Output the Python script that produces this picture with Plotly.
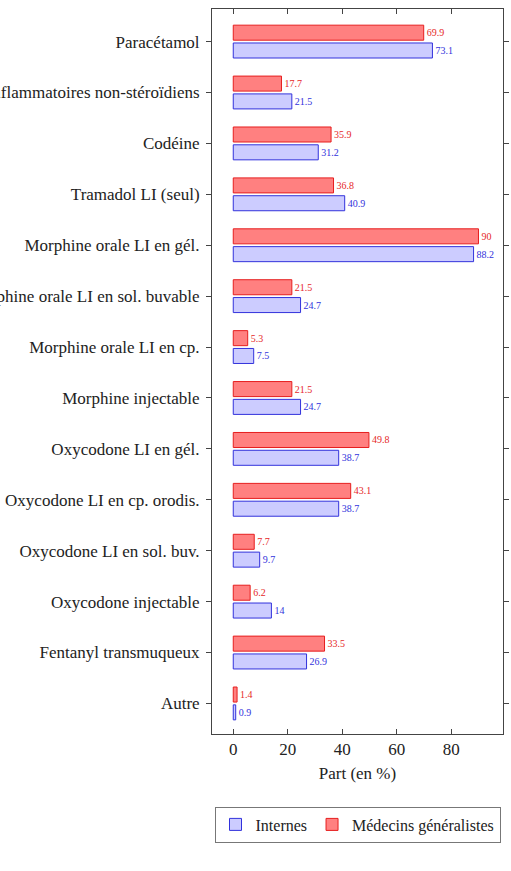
import plotly.graph_objects as go

categories = [
    "Paracétamol",
    "Anti-inflammatoires non-stéroïdiens",
    "Codéine",
    "Tramadol LI (seul)",
    "Morphine orale LI en gél.",
    "Morphine orale LI en sol. buvable",
    "Morphine orale LI en cp.",
    "Morphine injectable",
    "Oxycodone LI en gél.",
    "Oxycodone LI en cp. orodis.",
    "Oxycodone LI en sol. buv.",
    "Oxycodone injectable",
    "Fentanyl transmuqueux",
    "Autre",
]
internes = [73.1, 21.5, 31.2, 40.9, 88.2, 24.7, 7.5, 24.7, 38.7, 38.7, 9.7, 14, 26.9, 0.9]
medecins = [69.9, 17.7, 35.9, 36.8, 90, 21.5, 5.3, 21.5, 49.8, 43.1, 7.7, 6.2, 33.5, 1.4]
x_ticks = [0, 20, 40, 60, 80]

FONT = "Liberation Serif"

fig = go.Figure()
fig.add_trace(go.Bar(
    y=categories, x=medecins, orientation="h", name="Médecins généralistes",
    marker=dict(color="rgba(255,128,128,1)", line=dict(color="rgb(230,30,30)", width=1)),
    text=[str(v) for v in medecins], textposition="outside", cliponaxis=False,
    textfont=dict(family=FONT, size=10, color="rgb(230,40,40)"),
    legendrank=2,
))
fig.add_trace(go.Bar(
    y=categories, x=internes, orientation="h", name="Internes",
    marker=dict(color="rgba(204,204,255,1)", line=dict(color="rgb(50,50,220)", width=1)),
    text=[str(v) for v in internes], textposition="outside", cliponaxis=False,
    textfont=dict(family=FONT, size=10, color="rgb(50,50,220)"),
    legendrank=1,
))

fig.update_layout(
    width=511, height=871,
    template="simple_white",
    barmode="group", bargap=0.3, bargroupgap=0.157,
    margin=dict(l=212, r=8, t=9, b=137, autoexpand=False),
    font=dict(family=FONT, size=17, color="#222"),
    paper_bgcolor="white", plot_bgcolor="white",
    legend=dict(
        orientation="h", x=0.5, xanchor="center", y=-0.1, yanchor="top",
        bordercolor="#777", borderwidth=1, font=dict(family=FONT, size=16),
        itemwidth=30, tracegroupgap=0,
    ),
    showlegend=True,
)
fig.update_xaxes(
    range=[-7.8, 99], tickvals=x_ticks, ticks="inside", ticklen=5,
    mirror="ticks", showline=True, linecolor="#444", linewidth=1,
    tickcolor="#444", tickfont=dict(size=17), showgrid=False, zeroline=False,
    title=dict(text="Part (en %)", font=dict(size=17), standoff=8),
    automargin=False,
)
fig.update_yaxes(
    categoryorder="array", categoryarray=categories,
    range=[13.6, -0.64], ticks="outside", ticklen=5, ticklabelstandoff=3,
    mirror="ticks", showline=True, linecolor="#444", linewidth=1,
    tickcolor="#444", tickfont=dict(size=17), showgrid=False,
    automargin=False,
)

fig.write_html("out.html")
